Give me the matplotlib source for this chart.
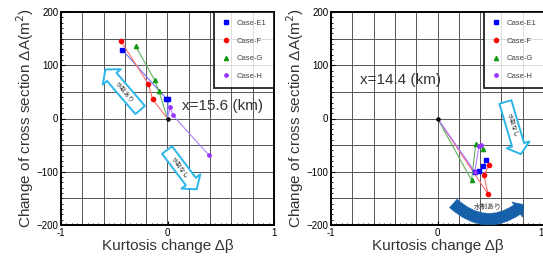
import numpy as np
import matplotlib.pyplot as plt
from matplotlib.lines import Line2D
from matplotlib.patches import FancyArrowPatch
from matplotlib.ticker import MultipleLocator

plt.rcParams['font.family'] = ['Liberation Sans', 'DejaVu Sans']
JP = ['Noto Sans CJK JP', 'DejaVu Sans']

# ---- data (origin first) ----
cases = ['Case-E1', 'Case-F', 'Case-G', 'Case-H']

# x = 15.6 km
left_x = {
    'Case-E1': [0, 0.006, -0.01, -0.425],
    'Case-F':  [0, -0.14, -0.18, -0.44],
    'Case-G':  [0, -0.08, -0.12, -0.30],
    'Case-H':  [0, 0.025, 0.05, 0.39],
}
left_y = {
    'Case-E1': [0, 37, 37, 129],
    'Case-F':  [0, 36, 65, 146],
    'Case-G':  [0, 51, 72, 136],
    'Case-H':  [0, 22, 6, -69],
}

# x = 14.4 km
right_x = {
    'Case-E1': [0, 0.35, 0.39, 0.43, 0.455],
    'Case-F':  [0, 0.475, 0.435, 0.485],
    'Case-G':  [0, 0.32, 0.36, 0.43],
    'Case-H':  [0, 0.35, 0.39, 0.405],
}
right_y = {
    'Case-E1': [0, -101, -98, -89, -77],
    'Case-F':  [0, -142, -106, -88],
    'Case-G':  [0, -116, -47, -58],
    'Case-H':  [0, -100, -52, -50],
}

colors = {'Case-E1': '#0000ff', 'Case-F': '#ff0000', 'Case-G': '#119911', 'Case-H': '#9933ff'}
line_colors = {'Case-E1': '#6f6fff', 'Case-F': '#ff6f6f', 'Case-G': '#5fb35f', 'Case-H': '#b07fff'}
markers = {'Case-E1': 's', 'Case-F': 'o', 'Case-G': '^', 'Case-H': 'o'}
msizes = {'Case-E1': 3.2, 'Case-F': 3.0, 'Case-G': 3.0, 'Case-H': 2.4}

cyan = '#2cb5e8'
navy = '#1560a8'

fig = plt.figure(figsize=(5.43, 2.61), dpi=100)
ax1 = fig.add_axes([61 / 543, 36 / 261, 213 / 543, 213 / 261])
ax2 = fig.add_axes([331 / 543, 36 / 261, 213 / 543, 213 / 261])


def setup(ax):
    ax.set_xlim(-1, 1)
    ax.set_ylim(-200, 200)
    for gx in np.arange(-0.8, 0.81, 0.2):
        ax.axvline(gx, color='#555555', lw=0.7, zorder=0)
    for gy in np.arange(-150, 151, 50):
        ax.axhline(gy, color='#555555', lw=0.7, zorder=0)
    ax.set_xticks([-1, 0, 1])
    ax.set_xticklabels(['-1', '0', '1'])
    ax.set_yticks([-200, -100, 0, 100, 200])
    ax.xaxis.set_minor_locator(MultipleLocator(0.05))
    ax.yaxis.set_minor_locator(MultipleLocator(10))
    ax.tick_params(which='major', direction='in', length=3, labelsize=7, pad=2)
    ax.tick_params(which='minor', direction='in', length=1.5)
    for s in ax.spines.values():
        s.set_linewidth(1.4)
    ax.set_xlabel('Kurtosis change Δβ', fontsize=11, labelpad=1, color='#333333')
    ax.set_ylabel('Change of cross section ΔA(m$^2$)', fontsize=11, labelpad=0, color='#333333')


def draw(ax, xs, ys):
    for c in cases:
        ax.plot(xs[c], ys[c], color=line_colors[c], lw=0.8, zorder=2)
        ax.plot(xs[c][1:], ys[c][1:], ls='none', marker=markers[c], ms=msizes[c],
                color=colors[c], zorder=3)
    ax.plot([0], [0], 'o', color='black', ms=2.2, zorder=4)
    handles = [Line2D([], [], ls='none', marker=markers[c], ms=msizes[c], color=colors[c]) for c in cases]
    leg = ax.legend(handles, cases, loc='upper right', fontsize=5.5, frameon=True, fancybox=False,
                    borderaxespad=0, handletextpad=0.8, labelspacing=1.35, borderpad=1.0,
                    handlelength=1.2)
    leg.get_frame().set_edgecolor('black')
    leg.get_frame().set_linewidth(1.4)
    for t in leg.get_texts():
        t.set_color('#444444')


def block_arrow(ax, tail, tip, label, rot):
    arr = FancyArrowPatch(tail, tip, arrowstyle='simple,head_length=7,head_width=17,tail_width=9',
                          mutation_scale=1, facecolor='white', edgecolor=cyan, lw=1.4, zorder=5)
    ax.add_patch(arr)
    mx = tail[0] + 0.45 * (tip[0] - tail[0])
    my = tail[1] + 0.45 * (tip[1] - tail[1])
    ax.text(mx, my, label, rotation=rot, ha='center', va='center', fontsize=4.5,
            family=JP, color='#333333', zorder=6)


setup(ax1)
setup(ax2)
draw(ax1, left_x, left_y)
draw(ax2, right_x, right_y)
ax2.get_xticklabels()[-1].set_horizontalalignment('right')

ax1.text(0.14, 23, 'x=15.6 (km)', fontsize=11, va='center', color='#333333')
ax2.text(-0.73, 73, 'x=14.4 (km)', fontsize=11, va='center', color='#333333')

block_arrow(ax1, (-0.24, 12), (-0.60, 96), '水制あり', -50)
block_arrow(ax1, (-0.02, -55), (0.29, -137), '水制なし', -54)
block_arrow(ax2, (0.63, 36), (0.79, -72), '水制なし', -72)

curve = FancyArrowPatch((0.13, -156), (0.83, -158), connectionstyle='arc3,rad=0.46',
                        arrowstyle='simple,head_length=6,head_width=13,tail_width=8',
                        mutation_scale=1, facecolor=navy, edgecolor=navy, lw=0.5, zorder=5)
ax2.add_patch(curve)
ax2.text(0.47, -166, '水制あり', fontsize=5, family=JP, ha='center', va='center',
         color='#333333', zorder=6)

fig.savefig('out.png', dpi=100)
